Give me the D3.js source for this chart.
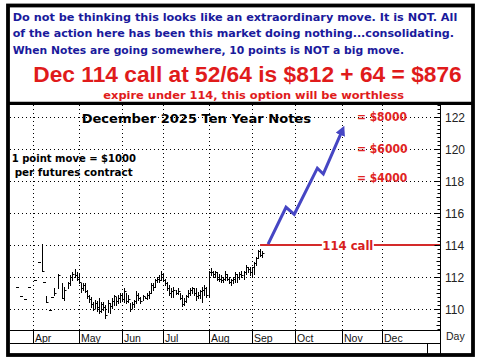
<!DOCTYPE html>
<html><head><meta charset="utf-8">
<script src="https://cdn.jsdelivr.net/npm/d3@7"></script>
<style>html,body{margin:0;padding:0;background:#fff;} svg{display:block}</style>
</head><body><svg id="c" width="478" height="363"></svg>
<script>
// ---------- DATA ----------
const headerLines = [
  "Do not be thinking this looks like an extraordinary move. It is NOT. All",
  "of the action here has been this market doing nothing...consolidating.",
  "When Notes are going somewhere, 10 points is NOT a big move."
];
const headline = "Dec 114 call at 52/64 is $812 + 64 = $876";
const subline = "expire under 114, this option will be worthless";
const chartTitle = "December 2025 Ten Year Notes";
const noteLines = ["1 point move = $1000", " per futures contract"];

const monthLabels = ["Apr","May","Jun","Jul","Aug","Sep","Oct","Nov","Dec"];
const monthTradingDays = [22,21,20,22,21,21,23,19,22];
const yTickLabels = [110,112,114,116,118,120,122];

// daily bars [high, low, close], first bar = 8 trading days before Apr 1; null = no trade
const barStartDay = -8;
const hlc = [
  [111.35,111.35,111.35], null, [110.8,110.8,110.8], null, [110.65,110.65,110.65], null,
  [111.35,111.35,111.35], null, null, [111.8,111.8,111.8], null, [112.95,112.95,112.95],
  [114.05,112.4,112.4], [111.67,111.67,111.67], [110.8,110.45,110.45], null,
  [109.94,109.94,109.94], [110.75,110.75,110.75], [111.3,110.9,111.0], null,
  [112.2,111.3,112.1], null, [111.6,110.67,110.7], [111.4,110.56,111.2], null,
  [111.7,111.3,111.6], [112.1,111.5,112.0], [112.33,111.8,112.2], [112.48,112.0,112.1],
  [112.33,111.8,111.9], [112.2,111.6,111.7],
  [111.6,111.08,111.3], [111.6,111.2,111.5], [111.6,111.05,111.1], [111.2,110.67,110.8],
  [110.9,110.46,110.6], [110.77,110.14,110.3], [110.46,109.94,110.0], [110.56,110.04,110.4],
  [110.5,109.9,110.1], [110.67,109.73,109.9], [110.46,109.83,110.3], [110.46,109.94,110.1],
  [110.25,109.42,109.6], [110.56,109.83,110.4], [110.35,109.77,110.2], [110.67,110.04,110.5],
  [110.9,110.25,110.8], [110.77,110.25,110.5], [110.9,110.35,110.7], [111.0,110.46,110.9],
  [110.95,110.5,110.6], [111.3,110.46,111.1], [111.0,110.35,110.5], [110.9,110.46,110.6],
  [110.35,109.9,110.0], [110.46,110.04,110.3], [110.56,110.14,110.5], [111.1,110.35,110.9],
  [111.0,110.56,110.7], [110.77,110.35,110.5], [110.9,110.56,110.8], [110.77,110.67,110.7],
  [111.0,110.6,110.9], [111.1,110.67,111.0], [111.6,111.0,111.5], [111.6,111.2,111.4],
  [111.9,111.4,111.8], [112.0,111.7,111.9], [112.1,111.7,111.8], [112.38,111.8,112.2],
  [112.17,111.75,111.8], [111.9,111.5,111.6], [111.7,111.2,111.3], [111.5,110.9,111.0],
  [111.3,110.77,111.1], [111.4,110.77,111.2], [111.2,110.92,111.0], [111.3,110.92,111.1],
  [111.0,110.6,110.7], [110.9,110.2,110.3], [110.67,110.25,110.5], [110.9,110.46,110.8],
  [111.2,110.77,111.0], [111.3,110.9,111.2], [111.4,111.0,111.3], [111.3,110.9,111.0],
  [111.3,110.56,110.8], [111.04,110.67,110.9], [111.2,110.67,111.1], [111.4,110.46,111.2],
  [111.5,110.9,111.3], [111.4,110.77,110.9],
  [112.4,110.77,112.3], [112.55,112.1,112.3], [112.4,112.0,112.2], [112.4,112.0,112.3],
  [112.3,111.8,111.9], [112.2,111.75,111.9], [112.1,111.7,111.8], [112.0,111.7,111.9],
  [112.4,111.8,112.2], [112.2,111.8,111.9], [112.0,111.6,111.7], [111.9,111.5,111.8],
  [112.0,111.6,111.9], [112.3,111.7,112.2], [112.2,111.7,112.0], [112.3,111.9,112.2],
  [112.4,112.0,112.1], [112.4,111.9,112.3], [112.75,112.2,112.6], [112.65,112.33,112.5],
  [112.65,112.1,112.3], [112.65,112.0,112.6], [112.95,112.2,112.9], [113.27,112.75,113.2],
  [113.7,113.17,113.6], [113.73,113.3,113.4], [113.64,113.27,113.5]
];

// projected path (trading day index from Apr 1, price)
const projDays   = [113.9, 122.6, 126.6, 137.8, 140.7, 150.1];
const projPrices = [114.06, 116.36, 115.92, 118.8, 118.44, 121.23];

const strikePrice = 114;
const strikeStartDay = 110;
const strikeLabel = "114 call";
const strikeLabelDay = 152.6;

const payoffLabels = ["= $8000", "= $6000", "= $4000"];
const payoffPrices = [122, 120, 118.2];
const payoffDay = 157;

// ---------- DRAW ----------
const svg = d3.select("#c");
const L = 10, R = 440, T = 105, B = 330;
const x = d3.scaleLinear().domain([-11.3, 197.3]).range([L, R]);
const y = d3.scaleLinear().domain([108.6875, 122.75]).range([B, T]);
const bold = "'DejaVu Sans', Verdana, sans-serif";
const arialB = "'Liberation Sans', Arial, sans-serif";

svg.append("rect").attr("width",478).attr("height",363).attr("fill","#fff");

// header texts
const hdrBlue = "#1a1a9c", red = "#e01b1b";
const fitText = (sel, w) => sel.attr("textLength", w).attr("lengthAdjust","spacingAndGlyphs");
const hdrY = [20.7, 37.3, 53.6], hdrW = [444.6, 441.3, 391.3];
headerLines.forEach((t,i) => {
  fitText(svg.append("text").attr("x",12.7).attr("y",hdrY[i]).attr("fill",hdrBlue)
    .attr("font-family",bold).attr("font-weight","bold").attr("font-size",11).text(t), hdrW[i]);
});
fitText(svg.append("text").attr("x",33.3).attr("y",81.6).attr("fill",red)
  .attr("font-family",arialB).attr("font-weight","bold").attr("font-size",21.5).text(headline), 428.4);
fitText(svg.append("text").attr("x",103.3).attr("y",99.3).attr("fill",red)
  .attr("font-family",bold).attr("font-weight","bold").attr("font-size",10.5).text(subline), 300.7);

// month boundaries
const cum = [0, ...d3.cumsum(monthTradingDays)];
const monthStarts = cum.slice(0, monthLabels.length);
const yearEnd = cum[monthLabels.length];

// grid
const grid = svg.append("g").attr("stroke","#000").attr("stroke-width",1).attr("stroke-dasharray","1,3");
yTickLabels.forEach(v => {
  const yy = Math.round(y(v)) + 0.5;
  grid.append("line").attr("x1",L).attr("x2",R).attr("y1",yy).attr("y2",yy);
});
monthStarts.forEach(d => {
  const xx = Math.round(x(d)) + 0.5;
  grid.append("line").attr("x1",xx).attr("x2",xx).attr("y1",T).attr("y2",B);
});

// title + note
fitText(svg.append("text").attr("x",81.7).attr("y",123.3).attr("fill","#000")
  .attr("font-family",bold).attr("font-weight","bold").attr("font-size",12.5).text(chartTitle), 229.3);
fitText(svg.append("text").attr("x",11.7).attr("y",162.3).attr("fill","#000")
  .attr("font-family",bold).attr("font-weight","bold").attr("font-size",11).text(noteLines[0]), 124.3);
fitText(svg.append("text").attr("x",14.7).attr("y",176).attr("fill","#000")
  .attr("font-family",bold).attr("font-weight","bold").attr("font-size",11).text(noteLines[1].trim()), 118);

// bars
const barG = svg.append("g").attr("stroke","#000").attr("stroke-width",1).attr("fill","none");
hlc.forEach((b,i) => {
  if (!b) return;
  const xx = Math.round(x(barStartDay + i)) + 0.5;
  const [h,l,c] = b;
  if (h === l) {
    const yy = Math.round(y(h)) + 0.5;
    barG.append("line").attr("x1",xx-1.5).attr("x2",xx+1.5).attr("y1",yy).attr("y2",yy);
  } else {
    barG.append("line").attr("x1",xx).attr("x2",xx).attr("y1",Math.round(y(h))).attr("y2",Math.round(y(l))+1);
    const yc = Math.round(y(c)) + 0.5;
    barG.append("line").attr("x1",xx).attr("x2",xx+2).attr("y1",yc).attr("y2",yc);
  }
});

// strike line with label gap
const ys = y(strikePrice);
svg.append("line").attr("x1",x(strikeStartDay)).attr("x2",R).attr("y1",ys).attr("y2",ys)
  .attr("stroke","#d42a2a").attr("stroke-width",2);
const lx = x(strikeLabelDay);
svg.append("rect").attr("x",lx-26).attr("y",ys-6).attr("width",52).attr("height",11).attr("fill","#fff");
fitText(svg.append("text").attr("x",lx).attr("y",ys+4.5).attr("text-anchor","middle")
  .attr("fill","#d81e1e")
  .attr("font-family",bold).attr("font-weight","bold").attr("font-size",12.5).text(strikeLabel), 51);

// payoff labels
const payW = [50, 50.7, 50.3];
payoffLabels.forEach((t,i) => {
  fitText(svg.append("text").attr("x",x(payoffDay)).attr("y",y(payoffPrices[i])+4)
    .attr("fill","#e02424").attr("font-family",bold).attr("font-weight","bold").attr("font-size",12).text(t), payW[i]);
});

// projection arrow
svg.append("defs").append("marker").attr("id","ah").attr("viewBox","0 0 10 10")
  .attr("refX",6).attr("refY",5).attr("markerWidth",10).attr("markerHeight",10)
  .attr("markerUnits","userSpaceOnUse").attr("orient","auto")
  .append("path").attr("d","M0,0 L10,5 L0,10 z").attr("fill","#4646c4");
const pts = projDays.map((d,i) => [x(d), y(projPrices[i])]);
svg.append("path").attr("d", d3.line()(pts)).attr("fill","none").attr("stroke","#4646c4")
  .attr("stroke-width",3).attr("stroke-linejoin","miter").attr("marker-end","url(#ah)");

// month band
const band = svg.append("g").attr("stroke","#000").attr("stroke-width",1);
band.append("line").attr("x1",L).attr("x2",R).attr("y1",330.5).attr("y2",330.5);
band.append("line").attr("x1",L).attr("x2",R).attr("y1",343.5).attr("y2",343.5);
monthStarts.forEach(d => {
  const xx = Math.round(x(d)) + 0.5;
  band.append("line").attr("x1",xx).attr("x2",xx).attr("y1",330).attr("y2",343);
});
const xy = Math.round(x(yearEnd)) + 0.5;
band.append("line").attr("x1",xy).attr("x2",xy).attr("y1",343).attr("y2",355);
monthLabels.forEach((m,i) => {
  svg.append("text").attr("x",Math.round(x(monthStarts[i]))+2).attr("y",341.5)
    .attr("font-family",arialB).attr("font-size",10.5).attr("fill","#111").text(m);
});

// y axis
const ax = svg.append("g").attr("stroke","#000").attr("stroke-width",1);
ax.append("line").attr("x1",440.5).attr("x2",440.5).attr("y1",T).attr("y2",355);
d3.range(108.75, 122.76, 0.25).forEach(v => {
  const yy = Math.round(y(v)) + 0.5;
  const major = yTickLabels.includes(v);
  const len = major ? 6 : (Number.isInteger(v) ? 4 : 3);
  ax.append("line").attr("x1",440.5-len).attr("x2",440.5).attr("y1",yy).attr("y2",yy);
});
yTickLabels.forEach(v => {
  svg.append("text").attr("x",445).attr("y",y(v)+4.5).attr("font-family",arialB)
    .attr("font-size",12).attr("fill","#222").text(v);
});
svg.append("text").attr("x",446).attr("y",340).attr("font-family",arialB)
  .attr("font-size",10.5).attr("fill","#222").text("Day");

// frame
svg.append("rect").attr("x",8).attr("y",5.5).attr("width",465).attr("height",349.5)
  .attr("fill","none").attr("stroke","#000").attr("stroke-width",3.8);
svg.append("line").attr("x1",8).attr("x2",473).attr("y1",103.4).attr("y2",103.4)
  .attr("stroke","#000").attr("stroke-width",3.4);
</script></body></html>
